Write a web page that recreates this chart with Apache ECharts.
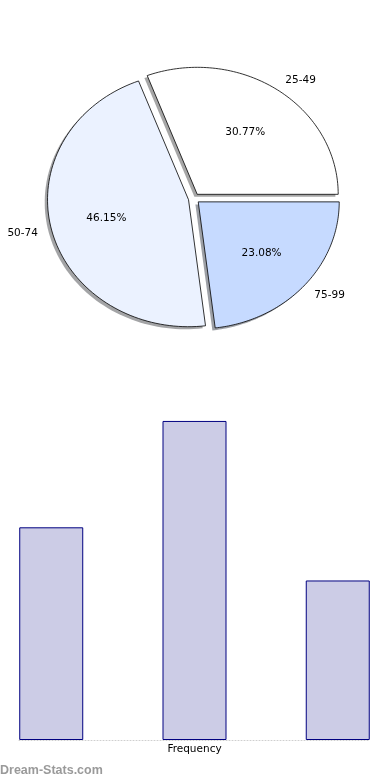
<!DOCTYPE html>
<html>
<head>
<meta charset="utf-8">
<script src="https://cdn.jsdelivr.net/npm/echarts@6/dist/echarts.min.js"></script>
<style>
html,body{margin:0;padding:0;background:#fff;}
#chart{width:390px;height:780px;}
</style>
</head>
<body>
<div id="chart"></div>
<script>
// ---- data ----
const categories = ['25-49', '50-74', '75-99'];
const frequency = [4, 6, 3];
const sliceColors = ['#ffffff', '#ebf2ff', '#c6daff'];
const axisName = 'Frequency';
const watermark = 'Dream-Stats.com';

// ---- pie geometry (elliptical, matplotlib-like) ----
const PIE = { cx: 194, cy: 198.5, rx: 141, ry: 127, explode: 0.04, shadow: 0.02 };
const total = frequency.reduce((a, b) => a + b, 0);
const cum = [0];
frequency.forEach(v => cum.push(cum[cum.length - 1] + v));

function hexToRgb(h) {
  const n = parseInt(h.slice(1), 16);
  return [(n >> 16) & 255, (n >> 8) & 255, n & 255];
}

function slicePolygon(i, sx, sy) {
  const a0 = cum[i] / total * Math.PI * 2;
  const a1 = cum[i + 1] / total * Math.PI * 2;
  const mid = (a0 + a1) / 2;
  const ox = PIE.cx + PIE.explode * PIE.rx * Math.cos(mid) + sx;
  const oy = PIE.cy - PIE.explode * PIE.ry * Math.sin(mid) + sy;
  const pts = [[ox, oy]];
  const N = 90;
  for (let k = 0; k <= N; k++) {
    const a = a0 + (a1 - a0) * k / N;
    pts.push([ox + PIE.rx * Math.cos(a), oy - PIE.ry * Math.sin(a)]);
  }
  return { pts, ox, oy, mid };
}

const font = '10.5px "DejaVu Sans"';

function renderShadow(params, api) {
  const i = params.dataIndex;
  const s = slicePolygon(i, -PIE.shadow * PIE.rx, PIE.shadow * PIE.ry);
  const c = hexToRgb(sliceColors[i]);
  return {
    type: 'polygon',
    shape: { points: s.pts },
    style: { fill: `rgba(${Math.round(c[0]*0.3)},${Math.round(c[1]*0.3)},${Math.round(c[2]*0.3)},0.5)`, stroke: null }
  };
}

function renderSlice(params, api) {
  const i = params.dataIndex;
  const v = api.value(0);
  const s = slicePolygon(i, 0, 0);
  const cm = Math.cos(s.mid), sm = Math.sin(s.mid);
  const px = s.ox + 0.6 * PIE.rx * cm, py = s.oy - 0.6 * PIE.ry * sm;
  const lx = s.ox + 1.1 * PIE.rx * cm, ly = s.oy - 1.1 * PIE.ry * sm;
  return {
    type: 'group',
    children: [
      { type: 'polygon', shape: { points: s.pts },
        style: { fill: sliceColors[i], stroke: '#000', lineWidth: 0.8, lineJoin: 'miter' } },
      { type: 'text', style: { text: (v / total * 100).toFixed(2) + '%', x: px, y: py + 0.5,
        align: 'center', verticalAlign: 'middle', font: font, fill: '#000' } },
      { type: 'text', style: { text: categories[i], x: lx, y: ly + 0.5,
        align: cm >= 0 ? 'left' : 'right', verticalAlign: 'middle', font: font, fill: '#000' } }
    ]
  };
}

const chart = echarts.init(document.getElementById('chart'), null, { renderer: 'canvas' });
chart.setOption({
  animation: false,
  backgroundColor: '#fff',
  grid: { left: 19, right: 20, top: 405, bottom: 40, containLabel: false },
  xAxis: {
    type: 'value', min: -0.225, max: 2.225,
    axisLabel: { show: false }, axisTick: { show: false }, splitLine: { show: false },
    axisLine: { show: true, onZero: false, lineStyle: { color: '#cfcfcf', type: [1, 2], width: 1 } },
    name: axisName, nameLocation: 'middle', nameGap: 4,
    nameTextStyle: { fontFamily: 'DejaVu Sans', fontSize: 10.5, color: '#000', verticalAlign: 'top' }
  },
  yAxis: {
    type: 'value', min: 0, max: 6.3, show: false
  },
  series: [
    {
      type: 'custom', coordinateSystem: 'none', silent: true, z: 1,
      data: frequency.map((v, i) => ({ value: v, name: categories[i] })),
      renderItem: renderShadow
    },
    {
      type: 'custom', coordinateSystem: 'none', silent: true, z: 2,
      data: frequency.map((v, i) => ({ value: v, name: categories[i] })),
      renderItem: renderSlice
    },
    {
      type: 'bar', barWidth: 64, silent: true,
      data: frequency.map((v, i) => [i, v]),
      itemStyle: { color: '#cccce6', borderColor: '#000080', borderWidth: 1 }
    }
  ],
  graphic: [
    { type: 'text', left: 0, top: 764,
      style: { text: watermark, font: 'bold 12.5px "Liberation Sans"', fill: '#9a9a9a' } }
  ]
});
</script>
</body>
</html>
